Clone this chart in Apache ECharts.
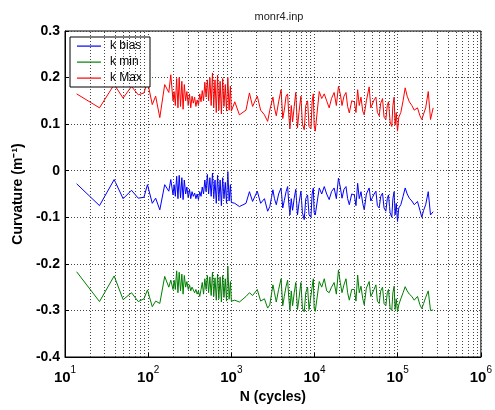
<!DOCTYPE html>
<html>
<head>
<meta charset="utf-8">
<script src="https://cdn.jsdelivr.net/npm/echarts@6/dist/echarts.min.js"></script>
<style>html,body{margin:0;padding:0;background:#fff;}#c{width:495px;height:410px;}</style>
</head>
<body>
<div id="c"></div>
<script>
// N (cycles)
const cycles = [
13.8,26,39,50,63,76,89,98,112,123,138,158,177,187,199,
205,212,220,228,236,245,254,263,272,282,292,303,314,325,337,349,362,375,388,402,417,432,447,463,480,497,515,533,552,572,593,614,636,659,683,707,733,759,787,815,845,875,907,940,975,1000,
1100,1250,1500,1650,1800,2050,2250,2500,2730,2900,
3160,3300,3470,3700,3960,4150,4330,4550,4750,4900,5060,5250,5450,5700,5950,6240,6500,6860,7150,7520,7850,8250,8600,9060,9350,9670,9900,10200,
11400,12200,13100,14000,15000,16000,17200,18300,19400,20400,21400,22600,23900,25000,26200,28000,30100,
31500,33000,34500,36200,38000,39600,42000,45400,47500,49800,52000,54700,57000,59900,62500,65700,68500,72000,75000,77500,81000,84900,87500,90600,93000,96000,99500,103000,
109000,116000,123000,130000,138000,148000,158000,173000,185000,195000,205000,217000,233000,248000,267000
];
const kBias = [
-0.028,-0.075,-0.019,-0.060,-0.042,-0.059,-0.057,-0.030,-0.070,-0.059,-0.084,-0.030,-0.044,-0.019,-0.052,
-0.030,-0.055,-0.012,-0.060,-0.010,-0.058,-0.015,-0.062,-0.020,-0.050,-0.035,-0.058,-0.040,-0.060,-0.045,-0.055,-0.048,-0.060,-0.050,-0.062,-0.045,-0.055,-0.035,-0.050,-0.020,-0.045,-0.008,-0.050,-0.015,-0.055,-0.005,-0.060,-0.020,-0.070,-0.010,-0.065,-0.020,-0.075,-0.015,-0.060,-0.025,-0.070,-0.002,-0.065,-0.030,-0.068,
-0.070,-0.077,-0.070,-0.045,-0.066,-0.044,-0.070,-0.060,-0.087,-0.077,
-0.041,-0.060,-0.073,-0.050,-0.037,-0.080,-0.064,-0.045,-0.034,-0.070,-0.095,-0.060,-0.085,-0.059,-0.040,-0.095,-0.070,-0.044,-0.090,-0.105,-0.060,-0.052,-0.095,-0.100,-0.050,-0.037,-0.090,-0.095,
-0.037,-0.050,-0.034,-0.050,-0.062,-0.045,-0.037,-0.060,-0.016,-0.035,-0.059,-0.040,-0.034,-0.060,-0.073,-0.050,-0.052,
-0.075,-0.027,-0.060,-0.045,-0.070,-0.084,-0.050,-0.037,-0.065,-0.066,-0.050,-0.044,-0.075,-0.080,-0.055,-0.048,-0.080,-0.087,-0.060,-0.052,-0.090,-0.100,-0.060,-0.045,-0.095,-0.070,-0.109,-0.080,
-0.073,-0.055,-0.037,-0.050,-0.059,-0.065,-0.073,-0.066,-0.085,-0.100,-0.085,-0.073,-0.045,-0.095,-0.088
];
const kMin = [
-0.217,-0.281,-0.226,-0.277,-0.262,-0.281,-0.275,-0.256,-0.292,-0.280,-0.285,-0.227,-0.250,-0.235,-0.255,
-0.235,-0.255,-0.215,-0.262,-0.218,-0.258,-0.222,-0.265,-0.225,-0.250,-0.238,-0.255,-0.245,-0.258,-0.250,-0.252,-0.262,-0.255,-0.265,-0.258,-0.270,-0.255,-0.240,-0.265,-0.232,-0.255,-0.225,-0.262,-0.228,-0.268,-0.218,-0.270,-0.230,-0.278,-0.222,-0.275,-0.228,-0.282,-0.225,-0.272,-0.232,-0.280,-0.205,-0.276,-0.238,-0.280,
-0.278,-0.282,-0.270,-0.262,-0.268,-0.255,-0.280,-0.275,-0.295,-0.288,
-0.245,-0.262,-0.282,-0.255,-0.232,-0.290,-0.270,-0.248,-0.235,-0.272,-0.300,-0.258,-0.290,-0.262,-0.240,-0.298,-0.275,-0.240,-0.295,-0.303,-0.262,-0.250,-0.298,-0.300,-0.250,-0.232,-0.295,-0.302,
-0.238,-0.250,-0.232,-0.258,-0.262,-0.250,-0.240,-0.265,-0.213,-0.240,-0.262,-0.245,-0.232,-0.262,-0.278,-0.255,-0.255,
-0.280,-0.224,-0.262,-0.248,-0.275,-0.288,-0.252,-0.238,-0.270,-0.268,-0.255,-0.245,-0.280,-0.285,-0.258,-0.250,-0.285,-0.290,-0.262,-0.255,-0.295,-0.300,-0.262,-0.248,-0.298,-0.275,-0.303,-0.288,
-0.275,-0.262,-0.249,-0.258,-0.265,-0.270,-0.278,-0.270,-0.288,-0.296,-0.285,-0.272,-0.258,-0.300,-0.299
];
const kMax = [
0.165,0.135,0.185,0.156,0.181,0.163,0.167,0.192,0.142,0.160,0.114,0.185,0.168,0.206,0.150,
0.170,0.140,0.198,0.135,0.200,0.138,0.192,0.132,0.185,0.150,0.170,0.140,0.165,0.135,0.160,0.145,0.158,0.138,0.152,0.140,0.165,0.148,0.172,0.150,0.190,0.158,0.195,0.150,0.200,0.140,0.210,0.135,0.195,0.125,0.205,0.130,0.192,0.122,0.198,0.138,0.185,0.128,0.200,0.130,0.182,0.128,
0.148,0.120,0.130,0.167,0.138,0.160,0.130,0.120,0.106,0.130,
0.158,0.135,0.118,0.148,0.174,0.112,0.130,0.160,0.165,0.120,0.090,0.140,0.105,0.138,0.168,0.092,0.125,0.160,0.100,0.088,0.140,0.150,0.095,0.090,0.148,0.165,0.098,0.085,
0.170,0.155,0.165,0.150,0.135,0.155,0.168,0.140,0.181,0.165,0.140,0.160,0.168,0.138,0.124,0.150,0.148,
0.125,0.174,0.140,0.158,0.128,0.120,0.150,0.180,0.135,0.132,0.152,0.158,0.125,0.118,0.145,0.155,0.115,0.110,0.140,0.148,0.105,0.095,0.140,0.158,0.098,0.125,0.085,0.115,
0.125,0.150,0.178,0.160,0.148,0.140,0.130,0.135,0.118,0.110,0.122,0.135,0.170,0.110,0.135
];
const yTicks = [-0.4,-0.3,-0.2,-0.1,0,0.1,0.2,0.3];

const pair = (ys) => cycles.map((n, i) => [n, ys[i]]);
// minor log grid positions 2..9 x decade
const minorGrid = [];
for (let d = 10; d < 1e6; d *= 10) for (let k = 2; k <= 9; k++) minorGrid.push(k * d);

const dotted = { color: '#444', type: [1, 2], width: 1 };
const lineIcon = 'path://M0,0M24,12M0,5.5H24V6.7H0Z';
const chart = echarts.init(document.getElementById('c'), null, { renderer: 'canvas' });
chart.setOption({
  animation: false,
  backgroundColor: '#fff',
  title: {
    text: 'monr4.inp', left: 274, top: 6, textAlign: 'center',
    textStyle: { fontFamily: 'Liberation Sans', fontSize: 11, fontWeight: 'normal', color: '#222' }
  },
  grid: { left: 65, right: 12, top: 31, bottom: 53, show: true, borderColor: '#000', borderWidth: 1, backgroundColor: 'transparent' },
  legend: {
    left: 70, top: 37, orient: 'vertical',
    data: ['k bias', 'k min', 'k Max'],
    icon: lineIcon,
    itemWidth: 24, itemHeight: 12, itemGap: 2,
    padding: [2, 8, 2, 7],
    borderColor: '#000', borderWidth: 1, backgroundColor: '#fff',
    textStyle: { fontFamily: 'Liberation Sans', fontSize: 12, color: '#000', lineHeight: 14, padding: [0, 0, 0, 4] }
  },
  xAxis: {
    type: 'log', logBase: 10, min: 10, max: 1e6, interval: 1,
    name: 'N (cycles)', nameLocation: 'middle', nameGap: 30,
    nameTextStyle: { fontFamily: 'Liberation Sans', fontSize: 14, fontWeight: 'bold', color: '#000' },
    axisLine: { show: true, onZero: false, lineStyle: { color: '#000' } },
    axisTick: { show: true, inside: true, length: 4, lineStyle: { color: '#000' } },
    splitLine: { show: true, lineStyle: dotted },
    axisLabel: {
      margin: 8,
      formatter: (v) => '{b|10}{s|' + Math.round(Math.log10(v)) + '}',
      rich: {
        b: { fontFamily: 'Liberation Sans', fontSize: 15, fontWeight: 'bold', color: '#000', lineHeight: 20, verticalAlign: 'bottom' },
        s: { fontFamily: 'Liberation Sans', fontSize: 10, color: '#000', lineHeight: 20, verticalAlign: 'top' }
      }
    }
  },
  yAxis: {
    type: 'value', min: -0.4, max: 0.3, interval: 0.1,
    name: 'Curvature (m\u207B\u00B9)', nameLocation: 'middle', nameGap: 33, nameRotate: 90,
    nameTextStyle: { fontFamily: 'Liberation Sans', fontSize: 14, fontWeight: 'bold', color: '#000' },
    axisLine: { show: true, onZero: false, lineStyle: { color: '#000' } },
    axisTick: { show: true, inside: true, length: 4, lineStyle: { color: '#000' } },
    splitLine: { show: true, lineStyle: dotted },
    axisLabel: {
      margin: 5, fontFamily: 'Liberation Sans', fontSize: 14, fontWeight: 'bold', color: '#000',
      formatter: (v) => { const r = Math.round(v * 10) / 10; return r === 0 ? '0' : String(r); }
    }
  },
  series: [
    {
      name: 'grid', type: 'line', data: pair(kBias), showSymbol: false, symbol: 'none', silent: true, z: 1,
      lineStyle: { opacity: 0 },
      markLine: {
        silent: true, symbol: 'none', label: { show: false },
        lineStyle: dotted,
        data: minorGrid.map(v => ({ xAxis: v }))
      }
    },
    { name: 'k bias', type: 'line', data: pair(kBias), showSymbol: false, symbol: 'none', z: 3, color: '#0000ff', lineStyle: { width: 1, color: '#0000ff' } },
    { name: 'k min', type: 'line', data: pair(kMin), showSymbol: false, symbol: 'none', z: 3, color: '#008000', lineStyle: { width: 1, color: '#008000' } },
    { name: 'k Max', type: 'line', data: pair(kMax), showSymbol: false, symbol: 'none', z: 3, color: '#ff0000', lineStyle: { width: 1, color: '#ff0000' } }
  ]
});
</script>
</body>
</html>
